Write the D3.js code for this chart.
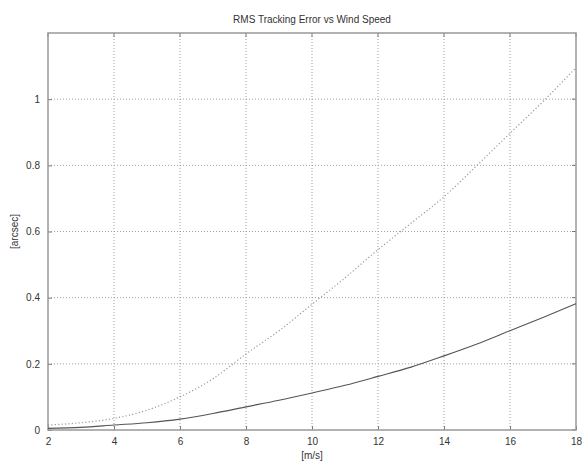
<!DOCTYPE html>
<html>
<head>
<meta charset="utf-8">
<script src="https://cdn.jsdelivr.net/npm/d3@7"></script>
<style>
  body { margin: 0; background: #fff; }
  text { font-family: "Liberation Sans", Arial, sans-serif; fill: #333; }
</style>
</head>
<body>
<div id="vis-container"></div>
<script>
// wind speed [m/s]
var windSpeed = [2, 3, 4, 5, 6, 7, 8, 9, 10, 11, 12, 13, 14, 15, 16, 17, 18];
// rms error, solid curve [arcsec]
var rmsSolid = [0.005, 0.008, 0.015, 0.022, 0.033, 0.05, 0.07, 0.09, 0.112, 0.135, 0.162, 0.19, 0.224, 0.26, 0.30, 0.34, 0.382];
// rms error, dotted curve [arcsec]
var rmsDotted = [0.015, 0.022, 0.035, 0.06, 0.10, 0.155, 0.23, 0.30, 0.38, 0.46, 0.545, 0.625, 0.705, 0.80, 0.897, 0.993, 1.095];

var xTicks = [2, 4, 6, 8, 10, 12, 14, 16, 18];
var yTicks = [0, 0.2, 0.4, 0.6, 0.8, 1];

var width = 584;
var height = 462;

// plot box
var plotLeft = 48, plotRight = 576, plotTop = 33, plotBottom = 430;

var svg = d3.select("#vis-container")
  .append("svg")
  .attr("width", width)
  .attr("height", height);

var xscale = d3.scaleLinear().domain([2, 18]).range([plotLeft, plotRight]);
var yscale = d3.scaleLinear().domain([0, 1.2]).range([plotBottom, plotTop]);

// grid
var grid = svg.append("g");
grid.selectAll("line.vx")
  .data(xTicks.slice(1, -1))
  .enter().append("line")
  .attr("x1", function(d) { return xscale(d); })
  .attr("x2", function(d) { return xscale(d); })
  .attr("y1", plotTop).attr("y2", plotBottom)
  .attr("stroke", "#888").attr("stroke-width", 0.8)
  .attr("stroke-dasharray", "1,2");
grid.selectAll("line.hy")
  .data(yTicks.slice(1))
  .enter().append("line")
  .attr("x1", plotLeft).attr("x2", plotRight)
  .attr("y1", function(d) { return yscale(d); })
  .attr("y2", function(d) { return yscale(d); })
  .attr("stroke", "#888").attr("stroke-width", 0.8)
  .attr("stroke-dasharray", "1,2");

// axes (ticks drawn inwards, labels outside)
var xaxis = d3.axisBottom(xscale).tickValues(xTicks).tickSize(-4).tickPadding(8).tickFormat(d3.format("d"));
var yaxis = d3.axisLeft(yscale).tickValues(yTicks).tickSize(-4).tickPadding(8).tickFormat(function(d) { return d === 0 ? "0" : d3.format("")(d); });

var xaxisg = svg.append("g")
  .attr("transform", "translate(0," + plotBottom + ")")
  .call(xaxis);
var yaxisg = svg.append("g")
  .attr("transform", "translate(" + plotLeft + ",0)")
  .call(yaxis);

[xaxisg, yaxisg].forEach(function(g) {
  g.select(".domain").remove();
  g.selectAll("line").attr("stroke", "#777");
  g.selectAll("text").style("font-size", "10px").attr("fill", "#333")
    .style("font-family", "'Liberation Sans', Arial, sans-serif");
});

// top/right ticks
svg.append("g").selectAll("line")
  .data(xTicks).enter().append("line")
  .attr("x1", function(d) { return xscale(d); })
  .attr("x2", function(d) { return xscale(d); })
  .attr("y1", plotTop).attr("y2", plotTop + 4)
  .attr("stroke", "#777");
svg.append("g").selectAll("line")
  .data(yTicks).enter().append("line")
  .attr("x1", plotRight).attr("x2", plotRight - 4)
  .attr("y1", function(d) { return yscale(d); })
  .attr("y2", function(d) { return yscale(d); })
  .attr("stroke", "#777");

// frame
svg.append("rect")
  .attr("x", plotLeft).attr("y", plotTop)
  .attr("width", plotRight - plotLeft).attr("height", plotBottom - plotTop)
  .attr("fill", "none")
  .attr("stroke", "#999")
  .attr("stroke-width", 1.5);

// curves
var line = function(values) {
  return d3.line()
    .x(function(d, i) { return xscale(windSpeed[i]); })
    .y(function(d) { return yscale(d); })
    .curve(d3.curveMonotoneX)(values);
};

svg.append("path")
  .attr("d", line(rmsDotted))
  .attr("fill", "none")
  .attr("stroke", "#999")
  .attr("stroke-width", 1.2)
  .attr("stroke-dasharray", "1.2,2.2");

svg.append("path")
  .attr("d", line(rmsSolid))
  .attr("fill", "none")
  .attr("stroke", "#555")
  .attr("stroke-width", 1.1);

// labels
svg.append("text")
  .attr("x", (plotLeft + plotRight) / 2).attr("y", 23)
  .attr("text-anchor", "middle")
  .style("font-size", "10px")
  .text("RMS Tracking Error vs Wind Speed");

svg.append("text")
  .attr("x", (plotLeft + plotRight) / 2).attr("y", 459)
  .attr("text-anchor", "middle")
  .style("font-size", "10px")
  .text("[m/s]");

svg.append("text")
  .attr("transform", "translate(18," + ((plotTop + plotBottom) / 2) + ") rotate(-90)")
  .attr("text-anchor", "middle")
  .style("font-size", "10px")
  .text("[arcsec]");
</script>
</body>
</html>
